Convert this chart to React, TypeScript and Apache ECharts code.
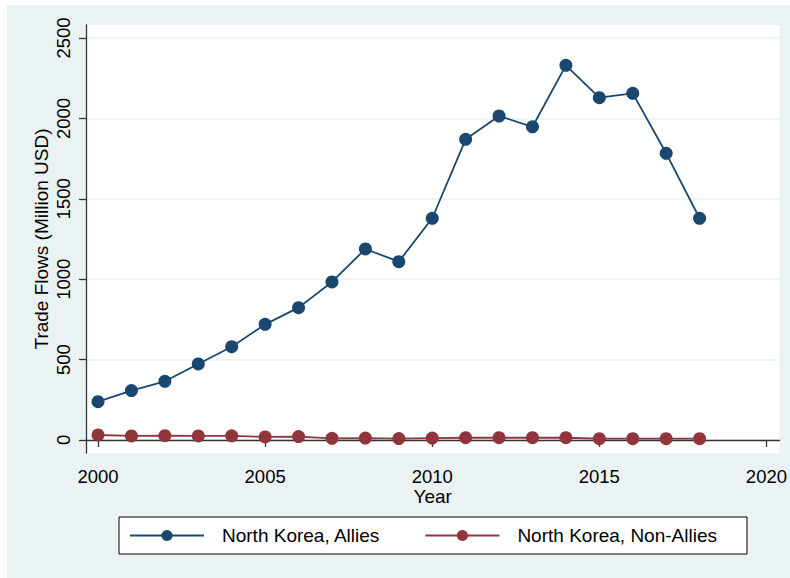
import React, { useEffect, useRef } from "react";
import * as echarts from "echarts";

// Trade flows by year
const years = [2000, 2001, 2002, 2003, 2004, 2005, 2006, 2007, 2008, 2009, 2010, 2011, 2012, 2013, 2014, 2015, 2016, 2017, 2018];
const allies = [238, 307, 365, 473, 580, 719, 823, 983, 1188, 1109, 1379, 1870, 2015, 1948, 2330, 2129, 2156, 1783, 1379];
const nonAllies = [31, 25, 27, 25, 26, 19, 21, 10, 12, 9, 12, 14, 14, 14, 14, 8, 8, 8, 8];

const xTicks = [2000, 2005, 2010, 2015, 2020];
const yTicks = [0, 500, 1000, 1500, 2000, 2500];

const NAVY = "#1a476f";
const MAROON = "#90353b";
const BG = "#eaf2f3";
const FONT = "Liberation Sans, Arial, Helvetica, sans-serif";

export default function App() {
  const ref = useRef<HTMLDivElement>(null);

  useEffect(() => {
    document.body.style.margin = "0";
    if (!ref.current) return;
    const chart = echarts.init(ref.current, undefined, { renderer: "svg" });
    const axisLine = { show: true, lineStyle: { color: "#333", width: 1.3 } };
    const axisTick = { show: true, length: 7, lineStyle: { color: "#333", width: 1.3 } };
    chart.setOption({
      animation: false,
      backgroundColor: "#ffffff",
      textStyle: { fontFamily: FONT },
      graphic: [
        {
          type: "rect",
          z: -100,
          silent: true,
          shape: { x: 7, y: 5, width: 783, height: 573 },
          style: { fill: BG },
        },
      ],
      grid: {
        left: 86,
        right: 10,
        top: 25,
        bottom: 125,
        show: true,
        backgroundColor: "#ffffff",
        borderWidth: 0,
      },
      legend: {
        left: 119,
        top: 517,
        padding: [9, 30, 9, 10],
        backgroundColor: "#ffffff",
        borderColor: "#000",
        borderWidth: 1,
        borderRadius: 0,
        itemWidth: 74,
        itemHeight: 14,
        itemGap: 44,
        textStyle: { fontSize: 19, color: "#000", fontFamily: FONT, padding: [0, 0, 0, 13] },
        data: ["North Korea, Allies", "North Korea, Non-Allies"],
      },
      xAxis: {
        type: "value",
        min: 1999.64,
        max: 2020.39,
        name: "Year",
        nameLocation: "middle",
        nameGap: 34,
        nameMoveOverlap: false,
        nameTextStyle: { fontSize: 19, color: "#000", fontFamily: FONT },
        axisLine,
        axisTick: { ...axisTick, customValues: xTicks },
        axisLabel: {
          customValues: xTicks,
          fontSize: 18.5,
          color: "#000",
          margin: 14,
          fontFamily: FONT,
          formatter: (v: number) => String(Math.round(v)),
        },
        splitLine: { show: false },
      },
      yAxis: {
        type: "value",
        min: -81,
        max: 2581,
        name: "Trade Flows (Million USD)",
        nameLocation: "middle",
        nameGap: 35,
        nameMoveOverlap: false,
        nameRotate: 90,
        nameTextStyle: { fontSize: 19, color: "#000", fontFamily: FONT },
        axisLine,
        axisTick: { ...axisTick, customValues: yTicks },
        axisLabel: {
          customValues: yTicks,
          rotate: 90,
          fontSize: 18.5,
          color: "#000",
          margin: 13,
          fontFamily: FONT,
          formatter: (v: number) => String(Math.round(v)),
        },
        splitLine: { show: true, lineStyle: { color: BG, width: 1.5 } },
      },
      series: [
        {
          name: "North Korea, Allies",
          type: "line",
          data: years.map((y, i) => [y, allies[i]]),
          symbol: "circle",
          symbolSize: 13,
          color: NAVY,
          lineStyle: { color: NAVY, width: 1.8 },
          itemStyle: { color: NAVY },
        },
        {
          name: "North Korea, Non-Allies",
          type: "line",
          data: years.map((y, i) => [y, nonAllies[i]]),
          symbol: "circle",
          symbolSize: 13,
          color: MAROON,
          lineStyle: { color: MAROON, width: 1.8 },
          itemStyle: { color: MAROON },
        },
      ],
    });
    return () => chart.dispose();
  }, []);

  return <div ref={ref} style={{ width: 790, height: 578 }} />;
}
